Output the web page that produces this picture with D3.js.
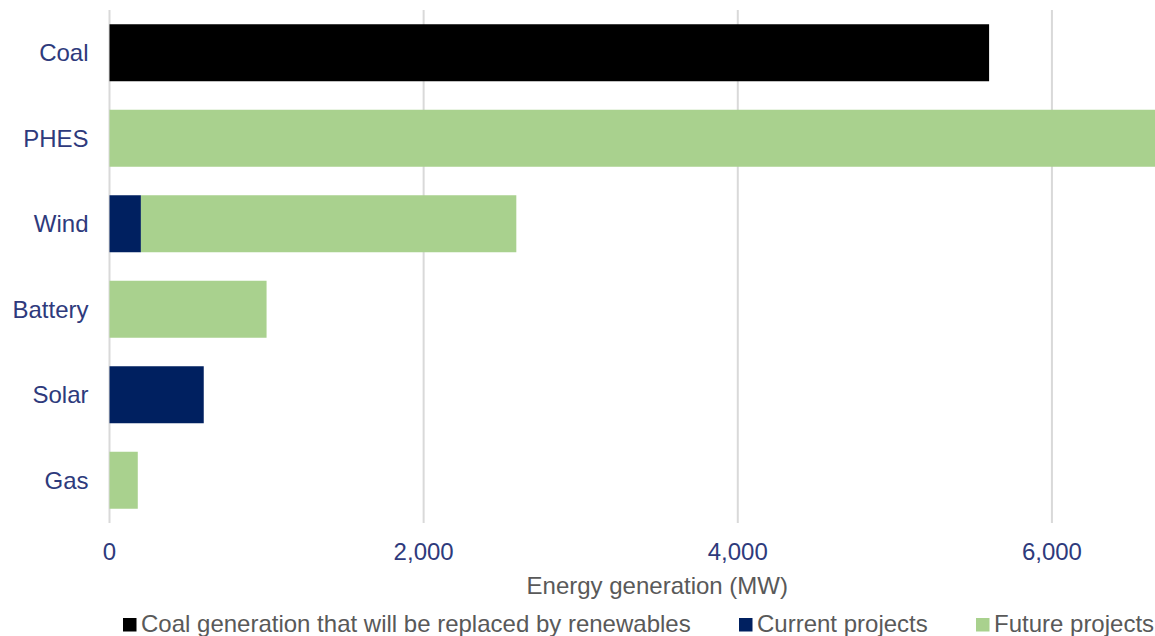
<!DOCTYPE html>
<html>
<head>
<meta charset="utf-8">
<script src="https://cdn.jsdelivr.net/npm/d3@7"></script>
<style>
  body { margin: 0; background: #fff; }
  svg { display: block; font-family: Arial, "Liberation Sans", sans-serif; }
</style>
</head>
<body>
<div id="chart"></div>
<script>
  // chart data
  const categories = ['Coal', 'PHES', 'Wind', 'Battery', 'Solar', 'Gas'];
  const seriesNames = ['Coal generation that will be replaced by renewables', 'Current projects', 'Future projects'];
  const coalValues = [5600, 0, 0, 0, 0, 0];
  const currentValues = [0, 0, 200, 0, 600, 0];
  const futureValues = [0, 7000, 2390, 1000, 0, 180];
  const tickValues = [0, 2000, 4000, 6000];
  const colors = ['#000000', '#002060', '#A9D18E'];

  const width = 1155, height = 636;
  const margin = { left: 109.5, top: 10, bottom: 113 };
  // plot area runs past the right edge (the original is cropped)
  const plotRight = 1209;

  const svg = d3.select('#chart').append('svg')
    .attr('width', width)
    .attr('height', height);

  const x = d3.scaleLinear()
    .domain([0, 7000])
    .range([margin.left, plotRight]);

  const y = d3.scaleBand()
    .domain(categories)
    .range([margin.top, height - margin.bottom])
    .paddingInner(1 / 3)
    .paddingOuter(1 / 6);

  // gridlines
  svg.append('g')
    .selectAll('line')
    .data(tickValues)
    .join('line')
    .attr('x1', d => x(d))
    .attr('x2', d => x(d))
    .attr('y1', margin.top)
    .attr('y2', height - margin.bottom)
    .attr('stroke', '#d9d9d9')
    .attr('stroke-width', 2);

  const rows = categories.map((c, i) => ({
    cat: c,
    v0: coalValues[i],
    v1: currentValues[i],
    v2: futureValues[i]
  }));
  const stack = d3.stack().keys(['v0', 'v1', 'v2']);
  const layers = stack(rows);

  svg.append('clipPath').attr('id', 'clip')
    .append('rect')
    .attr('x', 0).attr('y', 0)
    .attr('width', width).attr('height', height);

  svg.append('g')
    .attr('clip-path', 'url(#clip)')
    .selectAll('g')
    .data(layers)
    .join('g')
    .attr('fill', (d, i) => colors[i])
    .selectAll('rect')
    .data(d => d.filter(p => p[1] > p[0]))
    .join('rect')
    .attr('x', d => x(d[0]))
    .attr('width', d => x(d[1]) - x(d[0]))
    .attr('y', d => y(d.data.cat))
    .attr('height', y.bandwidth());

  // category labels
  svg.append('g')
    .selectAll('text')
    .data(categories)
    .join('text')
    .attr('x', margin.left - 21)
    .attr('y', d => y(d) + y.bandwidth() / 2)
    .attr('dy', '0.35em')
    .attr('text-anchor', 'end')
    .attr('fill', '#2E3A7C')
    .style('font-size', '24px')
    .text(d => d);

  // x tick labels
  svg.append('g')
    .selectAll('text')
    .data(tickValues)
    .join('text')
    .attr('x', d => x(d))
    .attr('y', 559.5)
    .attr('text-anchor', 'middle')
    .attr('fill', '#2E3A7C')
    .style('font-size', '24px')
    .text(d => d3.format(',')(d));

  svg.append('text')
    .attr('x', (margin.left + plotRight) / 2 - 2)
    .attr('y', 594)
    .attr('text-anchor', 'middle')
    .attr('fill', '#595959')
    .style('font-size', '24px')
    .text('Energy generation (MW)');

  // legend
  const legendX = [123, 739, 976];
  const legend = svg.append('g')
    .selectAll('g')
    .data(seriesNames)
    .join('g')
    .attr('transform', (d, i) => `translate(${legendX[i]},618)`);
  legend.append('rect')
    .attr('width', 13.5).attr('height', 13.5)
    .attr('fill', (d, i) => colors[i]);
  legend.append('text')
    .attr('x', 18)
    .attr('y', 14)
    .attr('fill', '#595959')
    .style('font-size', '24px')
    .text(d => d);
</script>
</body>
</html>
